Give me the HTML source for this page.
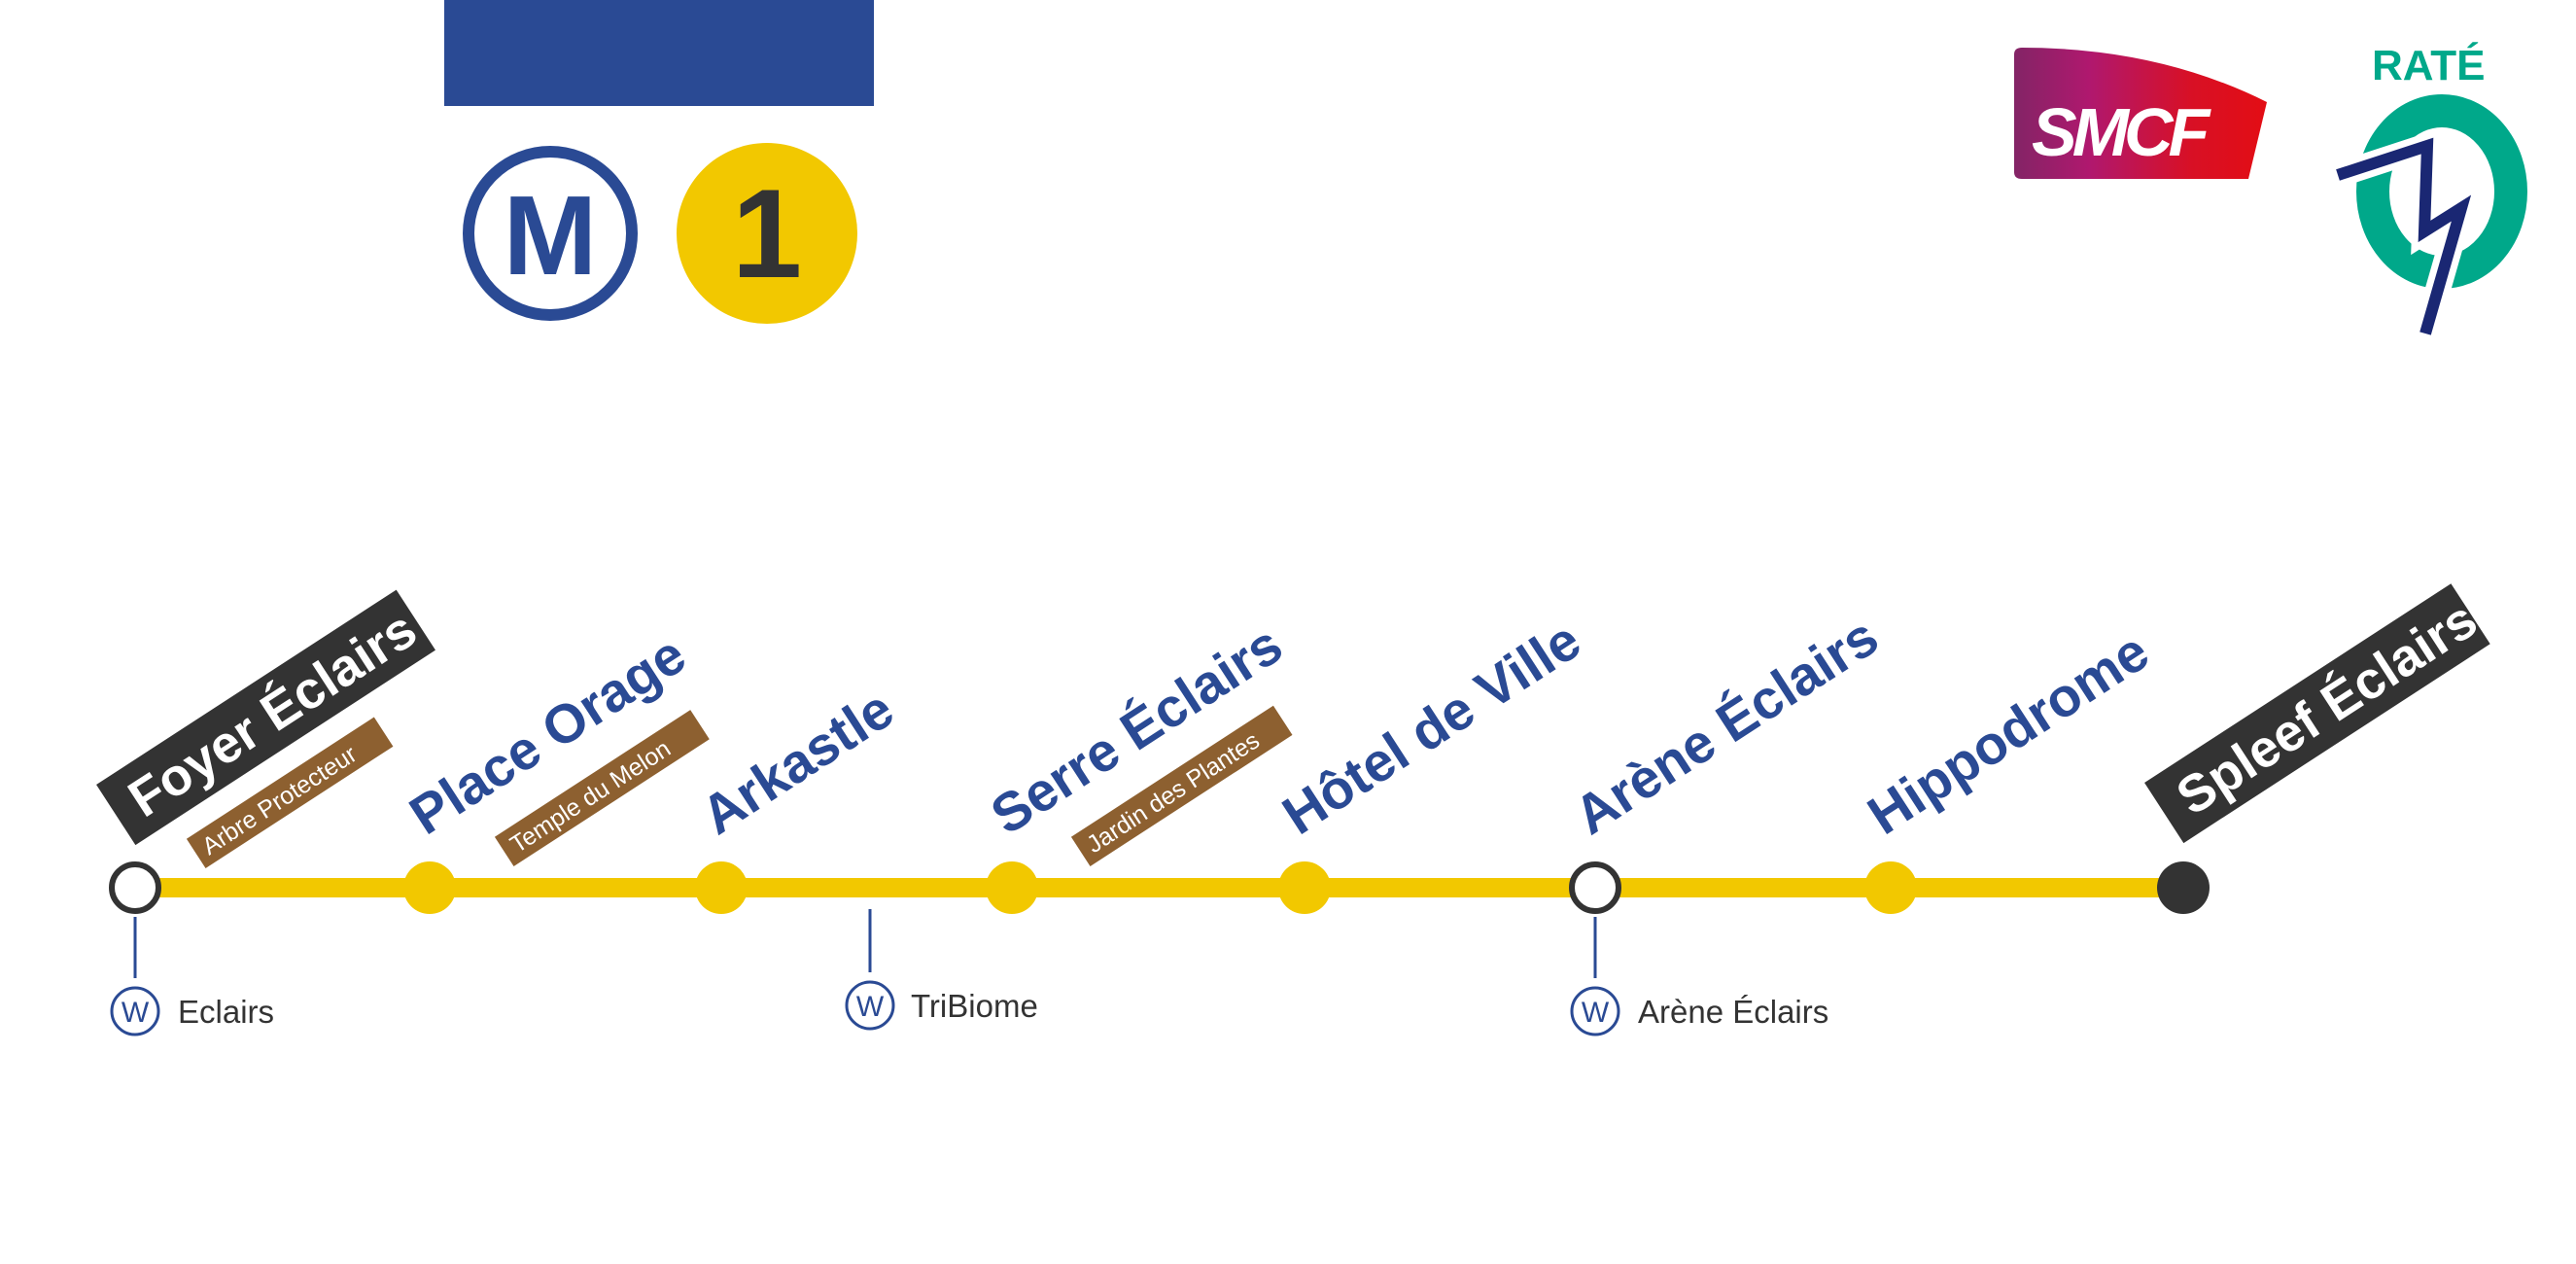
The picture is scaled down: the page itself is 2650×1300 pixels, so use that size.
<!DOCTYPE html>
<html><head><meta charset="utf-8"><style>
html,body{margin:0;padding:0;background:#fff;}
svg{display:block;}
.st{font-family:"Liberation Sans",sans-serif;font-weight:bold;font-size:56px;fill:#2a4a94;}
.wt{font-family:"Liberation Sans",sans-serif;font-weight:bold;font-size:54px;fill:#fff;}
.br{font-family:"Liberation Sans",sans-serif;font-size:25px;fill:#fff;}
.wk{font-family:"Liberation Sans",sans-serif;font-size:33px;fill:#333;}
</style></head><body>
<svg width="2650" height="1300" viewBox="0 0 2650 1300" xmlns="http://www.w3.org/2000/svg">
<defs>
<linearGradient id="sg" x1="0" x2="1" y1="0" y2="0">
<stop offset="0" stop-color="#832466"/><stop offset="0.3" stop-color="#b0186e"/><stop offset="0.7" stop-color="#d81025"/><stop offset="1" stop-color="#e30d14"/>
</linearGradient>
</defs>
<rect x="457" y="0" width="442" height="109" fill="#2a4a94"/>
<circle cx="566" cy="240" r="84" fill="#fff" stroke="#2a4a94" stroke-width="12"/>
<text x="566" y="282" text-anchor="middle" font-family="Liberation Sans,sans-serif" font-weight="bold" font-size="116" fill="#2a4a94">M</text>
<circle cx="789" cy="240" r="93" fill="#f2c800"/>
<text x="789" y="285" text-anchor="middle" font-family="Liberation Sans,sans-serif" font-weight="bold" font-size="130" fill="#333">1</text>
<!-- SMCF -->
<path d="M2072,56 Q2072,49 2080,49 Q2220,49 2332,105 L2313,184 L2080,184 Q2072,184 2072,177 Z" fill="url(#sg)"/>
<text x="2090" y="160" font-family="Liberation Sans,sans-serif" font-weight="bold" font-style="italic" font-size="70" fill="#fff" letter-spacing="-5">SMCF</text>
<!-- RATE -->
<text x="2440" y="82" font-family="Liberation Sans,sans-serif" font-weight="bold" font-size="44" fill="#00a88a">RATÉ</text>
<ellipse cx="2512" cy="197" rx="71" ry="83" fill="none" stroke="#00a88a" stroke-width="34"/>
<polyline points="2405,180 2497,150 2494,238 2532,214 2495,343" fill="none" stroke="#fff" stroke-width="26" stroke-linejoin="miter"/>
<polyline points="2405,180 2497,150 2494,238 2532,214 2495,343" fill="none" stroke="#1a2773" stroke-width="12" stroke-linejoin="miter"/>
<!-- line -->
<rect x="139" y="903" width="2105" height="20" fill="#f2c800"/>
<g fill="#f2c800">
<circle cx="442" cy="913" r="27"/><circle cx="742" cy="913" r="27"/><circle cx="1041" cy="913" r="27"/><circle cx="1342" cy="913" r="27"/><circle cx="1945" cy="913" r="27"/>
</g>
<circle cx="139" cy="913" r="24" fill="#fff" stroke="#333" stroke-width="6"/>
<circle cx="1641" cy="913" r="24" fill="#fff" stroke="#333" stroke-width="6"/>
<circle cx="2246" cy="913" r="27" fill="#333"/>
<!-- labels -->
<g transform="translate(148,842) rotate(-33)"><rect x="-22" y="-56" width="368" height="74" fill="#333"/><text class="wt" x="0" y="0">Foyer Éclairs</text></g>
<g transform="translate(215,880) rotate(-33)"><rect x="-10" y="-27" width="230" height="36" fill="#8d6030"/><text class="br" x="0" y="0">Arbre Protecteur</text></g>
<g transform="translate(438,860) rotate(-33)"><text class="st">Place Orage</text></g>
<g transform="translate(532,878) rotate(-33)"><rect x="-10" y="-27" width="240" height="36" fill="#8d6030"/><text class="br" x="0" y="0">Temple du Melon</text></g>
<g transform="translate(738,860) rotate(-33)"><text class="st">Arkastle</text></g>
<g transform="translate(1036,860) rotate(-33)"><text class="st">Serre Éclairs</text></g>
<g transform="translate(1125,878) rotate(-33)"><rect x="-10" y="-27" width="248" height="36" fill="#8d6030"/><text class="br" x="0" y="0">Jardin des Plantes</text></g>
<g transform="translate(1336,860) rotate(-33)"><text class="st">Hôtel de Ville</text></g>
<g transform="translate(1636,860) rotate(-33)"><text class="st">Arène Éclairs</text></g>
<g transform="translate(1938,860) rotate(-33)"><text class="st">Hippodrome</text></g>
<g transform="translate(2255,840) rotate(-33)"><rect x="-22" y="-56" width="376" height="74" fill="#333"/><text class="wt" x="0" y="0">Spleef Éclairs</text></g>
<!-- walking -->
<g stroke="#2a4a94" stroke-width="3" fill="none">
<line x1="139" y1="943" x2="139" y2="1006"/><circle cx="139" cy="1040" r="24"/>
<line x1="895" y1="935" x2="895" y2="1000"/><circle cx="895" cy="1034" r="24"/>
<line x1="1641" y1="943" x2="1641" y2="1006"/><circle cx="1641" cy="1040" r="24"/>
</g>
<g font-family="Liberation Sans,sans-serif" font-size="30" fill="#2a4a94" text-anchor="middle">
<text x="139" y="1051">W</text><text x="895" y="1045">W</text><text x="1641" y="1051">W</text>
</g>
<text class="wk" x="183" y="1052">Eclairs</text>
<text class="wk" x="937" y="1046">TriBiome</text>
<text class="wk" x="1685" y="1052">Arène Éclairs</text>
</svg>
</body></html>
